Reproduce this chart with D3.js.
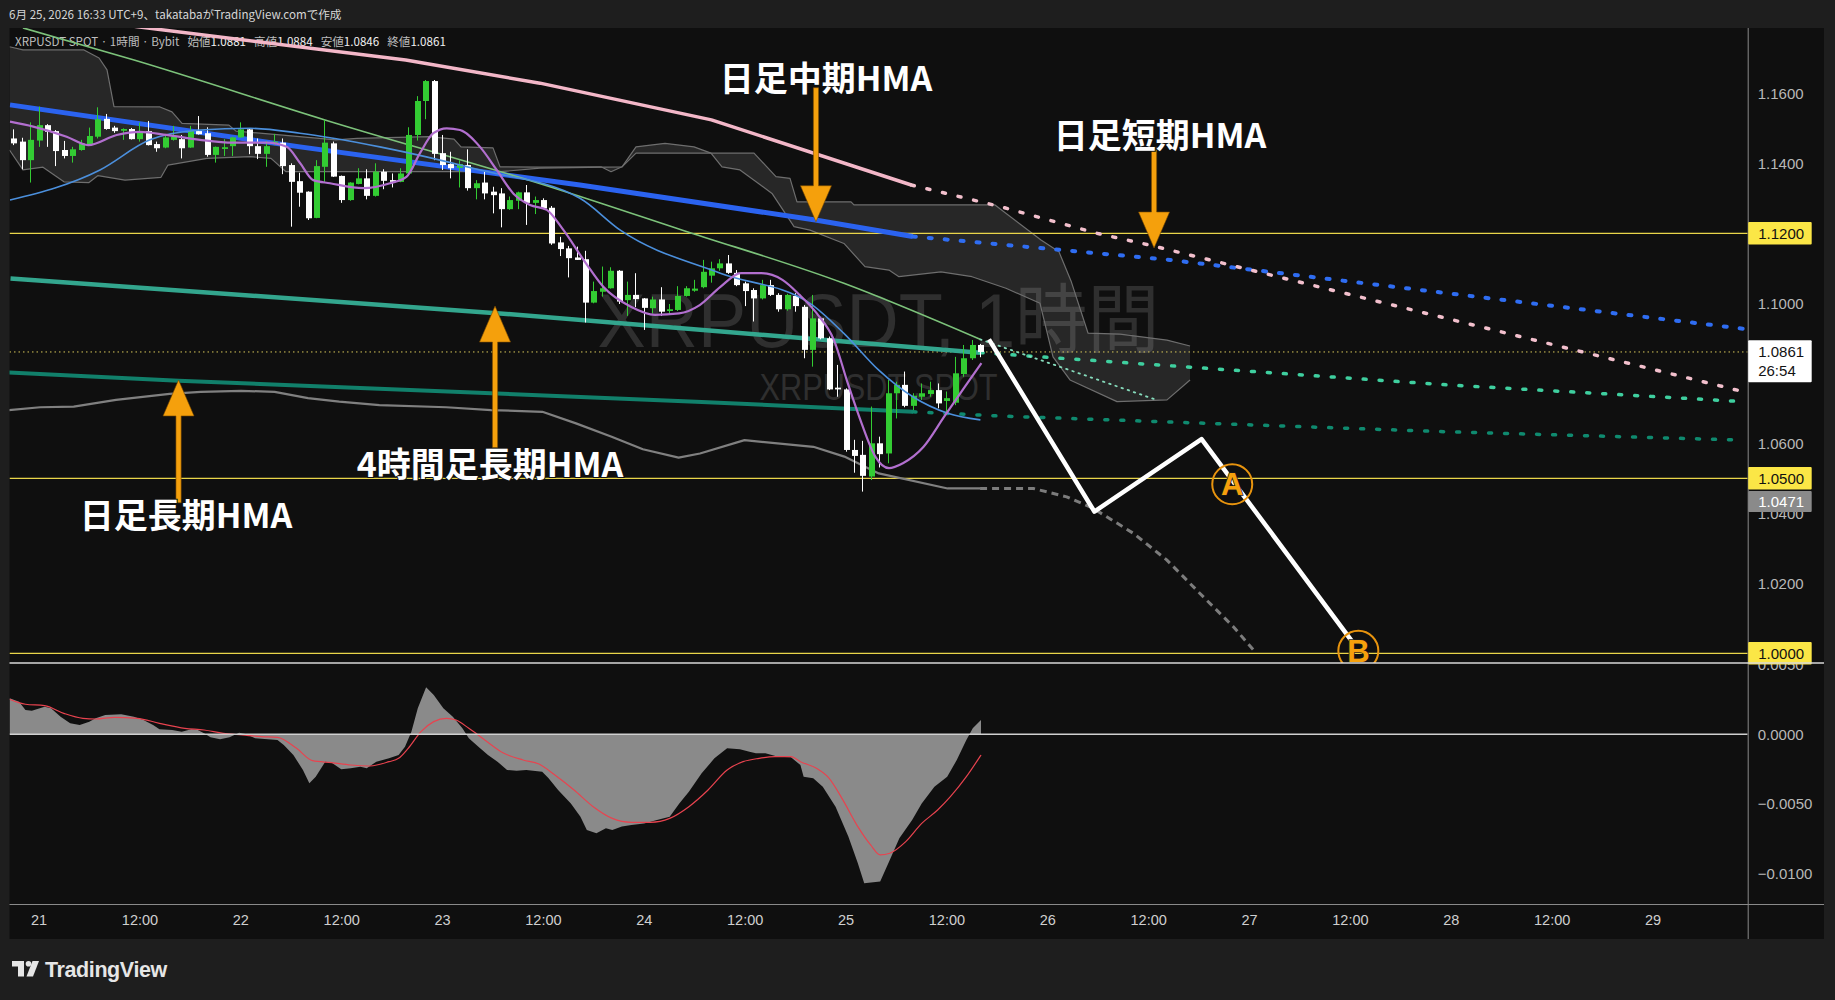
<!DOCTYPE html>
<html><head><meta charset="utf-8">
<script src="https://cdn.jsdelivr.net/npm/d3@7/dist/d3.min.js"></script>
<style>
html,body{margin:0;padding:0;background:#1e1e1e;overflow:hidden;}
svg{display:block;}
</style></head>
<body>
<svg id="chart" width="1835" height="1000"></svg>
<script>
// ================= DATA =================
const headerText = "6月 25, 2026 16:33 UTC+9、takatabaがTradingView.comで作成";
const symbolTitle = "XRPUSDT SPOT · 1時間 · Bybit";
const legendNames = ["始値", "高値", "安値", "終値"];
const watermarkMain = "XRPUSDT, 1時間";
const watermarkSub = "XRPUSDT SPOT";
const countdownText = "26:54";

// hourly candles, first one at hour -3 relative to 6/21 00:00
const firstCandleHour = -3;
const candleOpen = [1.1471,1.1462,1.1409,1.1465,1.1509,1.1492,1.1438,1.1421,1.1438,1.1455,1.1476,1.1527,1.1502,1.1493,1.1498,1.1469,1.1492,1.1455,1.1445,1.1467,1.1469,1.1445,1.1492,1.1486,1.1424,1.1441,1.1449,1.1474,1.1497,1.1449,1.1427,1.1457,1.1459,1.1395,1.1349,1.1319,1.1244,1.1390,1.1457,1.1364,1.1295,1.1341,1.1357,1.1307,1.1376,1.1352,1.1347,1.1371,1.1481,1.1578,1.1635,1.1429,1.1398,1.1387,1.1395,1.1329,1.1345,1.1319,1.1314,1.1269,1.1293,1.1317,1.1287,1.1295,1.1273,1.1174,1.1157,1.1131,1.1126,1.1002,1.1033,1.1043,1.1093,1.1009,1.1024,1.1014,1.0986,1.1011,1.0978,1.0981,1.1021,1.1036,1.1046,1.1079,1.1100,1.1114,1.1087,1.1057,1.1038,1.1014,1.1052,1.1024,1.0983,1.1021,1.0990,1.0867,1.0957,1.0900,1.0759,1.0754,1.0581,1.0567,1.0505,1.0600,1.0571,1.0743,1.0767,1.0707,1.0733,1.0741,1.0752,1.0721,1.0716,1.0798,1.0843,1.0881];
const candleHigh = [1.1497,1.1473,1.1517,1.1562,1.1512,1.1495,1.1464,1.1447,1.1467,1.1502,1.1560,1.1541,1.1507,1.1500,1.1501,1.1516,1.1521,1.1462,1.1481,1.1507,1.1481,1.1507,1.1535,1.1503,1.1448,1.1469,1.1476,1.1517,1.1499,1.1471,1.1464,1.1484,1.1471,1.1400,1.1373,1.1320,1.1409,1.1524,1.1462,1.1365,1.1346,1.1386,1.1383,1.1400,1.1383,1.1371,1.1386,1.1503,1.1592,1.1638,1.1638,1.1481,1.1433,1.1409,1.1440,1.1352,1.1376,1.1333,1.1329,1.1305,1.1319,1.1338,1.1305,1.1300,1.1278,1.1190,1.1164,1.1162,1.1150,1.1062,1.1105,1.1103,1.1095,1.1062,1.1086,1.1015,1.1019,1.1046,1.0998,1.1049,1.1049,1.1067,1.1124,1.1119,1.1126,1.1138,1.1095,1.1062,1.1043,1.1067,1.1067,1.1029,1.1027,1.1029,1.0995,1.1024,1.0960,1.0905,1.0824,1.0757,1.0610,1.0607,1.0705,1.0619,1.0781,1.0776,1.0805,1.0743,1.0771,1.0776,1.0771,1.0748,1.0847,1.0881,1.0895,1.0884];
const candleLow = [1.1452,1.1383,1.1345,1.1447,1.1447,1.1392,1.1414,1.1402,1.1436,1.1453,1.1471,1.1496,1.1487,1.1467,1.1468,1.1462,1.1451,1.1433,1.1443,1.1465,1.1414,1.1444,1.1482,1.1419,1.1402,1.1421,1.1421,1.1473,1.1426,1.1412,1.1390,1.1452,1.1369,1.1219,1.1276,1.1238,1.1243,1.1347,1.1361,1.1287,1.1293,1.1340,1.1297,1.1305,1.1326,1.1331,1.1346,1.1369,1.1465,1.1526,1.1409,1.1381,1.1357,1.1331,1.1322,1.1297,1.1297,1.1257,1.1217,1.1267,1.1269,1.1224,1.1255,1.1269,1.1167,1.1135,1.1074,1.1124,1.0945,1.1000,1.1019,1.1042,1.0998,1.0964,1.0989,1.0924,1.0971,1.0964,1.0967,1.0978,1.1019,1.1033,1.1043,1.1059,1.1093,1.1084,1.1049,1.0992,1.0948,1.1011,1.1021,1.0976,1.0979,1.0976,1.0843,1.0819,1.0897,1.0752,1.0733,1.0576,1.0516,1.0462,1.0495,1.0531,1.0543,1.0671,1.0703,1.0695,1.0724,1.0733,1.0700,1.0690,1.0709,1.0790,1.0838,1.0846];
const candleClose = [1.1457,1.1409,1.1467,1.1509,1.1490,1.1435,1.1421,1.1440,1.1457,1.1478,1.1526,1.1498,1.1492,1.1498,1.1469,1.1490,1.1452,1.1443,1.1474,1.1476,1.1443,1.1492,1.1483,1.1424,1.1447,1.1446,1.1474,1.1497,1.1449,1.1427,1.1449,1.1462,1.1392,1.1347,1.1316,1.1243,1.1392,1.1459,1.1362,1.1295,1.1345,1.1357,1.1307,1.1376,1.1350,1.1347,1.1371,1.1481,1.1578,1.1635,1.1427,1.1395,1.1386,1.1398,1.1329,1.1343,1.1314,1.1309,1.1269,1.1295,1.1317,1.1287,1.1295,1.1271,1.1171,1.1155,1.1129,1.1124,1.1002,1.1035,1.1043,1.1093,1.1005,1.1024,1.1012,1.0987,1.1011,1.0976,1.0983,1.1021,1.1043,1.1042,1.1090,1.1100,1.1114,1.1087,1.1052,1.1035,1.1014,1.1052,1.1024,1.0983,1.1024,1.0992,1.0867,1.0957,1.0900,1.0754,1.0754,1.0581,1.0564,1.0507,1.0600,1.0569,1.0743,1.0767,1.0707,1.0736,1.0743,1.0752,1.0714,1.0729,1.0800,1.0843,1.0881,1.0861];

// indicator lines: [hour, price]
const dailyShortHma = [[0,1.1835],[11.8,1.1790],[43.67,1.1695],[59.65,1.1629],[80.04,1.1524],[103.83,1.1338]];
const dailyShortHmaProj = [[103.83,1.1338],[114.45,1.1276],[125.9,1.1200],[132.57,1.1164],[202.9,1.0747]];
const dailyMidHma = [[-3.4,1.1567],[31.1,1.1447],[64.4,1.1338],[92.4,1.1238],[104.0,1.1191]];
const dailyMidHmaProj = [[104.0,1.1191],[134.6,1.1124],[202.9,1.0927]];
const h4LongHma = [[-3.34,1.1071],[54.89,1.0971],[112.0,1.0859]];
const h4LongHmaProj = [[112.0,1.0859],[167.5,1.0767],[202.9,1.0719]];
const dailyLongHma = [[-3.53,1.0802],[16.65,1.0779],[78.21,1.0719],[104.02,1.0690]];
const dailyLongHmaProj = [[104.02,1.0690],[114.37,1.0678],[167.5,1.0633],[202.9,1.0609]];
const greenMa = [[-1.86,1.1787],[11.36,1.1695],[34.07,1.1524],[62.03,1.1324],[76.6,1.1209],[95.8,1.1057],[112,1.0897]];
const greenMaProj = [[112,1.0897],[133,1.0724]];
const blueMa = [[-3.4,1.1295],[7.3,1.1381],[13.25,1.1467],[19.2,1.1495],[25.15,1.1500],[31.1,1.1486],[40.6,1.1447],[52.5,1.1381],[64.4,1.1300],[69.2,1.1209],[81.1,1.1086],[91.77,1.1000],[95.8,1.0914],[99.95,1.0809],[104.0,1.0733],[108.15,1.0686],[112.04,1.0667]];
const purpleMa = [[-3.4,1.1519],[-0.63,1.1505],[3.34,1.1476],[5.91,1.1452],[9.29,1.1481],[12.06,1.1490],[15.24,1.1481],[19.2,1.1467],[23.16,1.1459],[27.14,1.1459],[29.51,1.1447],[31.1,1.1401],[32.68,1.1352],[34.67,1.1343],[38.63,1.1329],[41.8,1.1343],[43.79,1.1362],[45.37,1.1429],[46.96,1.1486],[48.55,1.1500],[50.13,1.1495],[52.51,1.1447],[54.5,1.1381],[56.47,1.1314],[58.46,1.1281],[60.45,1.1267],[62.27,1.1215],[65.12,1.1114],[67.18,1.1047],[70.46,1.0990],[73.33,1.0967],[76.19,1.0971],[78.65,1.0995],[81.11,1.1047],[83.56,1.1086],[86.02,1.1086],[88.49,1.1067],[90.53,1.1024],[92.58,1.0971],[94.62,1.0895],[96.27,1.0771],[97.91,1.0657],[99.54,1.0562],[101.17,1.0529],[102.82,1.0543],[105.28,1.0590],[107.73,1.0676],[110.2,1.0762],[112.16,1.0829]];
const grayBand = [[-3.53,1.0695],[0.19,1.0703],[4.18,1.0705],[9.21,1.0724],[15.58,1.0741],[19.31,1.0747],[24.08,1.0750],[28.08,1.0747],[32.05,1.0729],[35.77,1.0719],[40.55,1.0709],[48.51,1.0703],[53.82,1.0695],[59.93,1.0690],[63.93,1.0657],[68.17,1.0619],[71.89,1.0583],[76.14,1.0559],[78.68,1.0571],[83.98,1.0609],[92.17,1.0590],[95.86,1.0562],[99.95,1.0514],[108.15,1.0471],[112,1.0471]];
const grayBandProj = [[112,1.0471],[118.33,1.0471],[122.3,1.0447],[125.47,1.0414],[130.23,1.0343],[134.2,1.0267],[138.16,1.0171],[142.13,1.0076],[144.51,1.0010]];
const cloudUpper = [[-3.46,1.1733],[-1.86,1.1724],[5.40,1.1724],[7.19,1.1701],[8.14,1.1667],[8.97,1.1562],[14.44,1.1561],[15.87,1.1547],[17.06,1.1514],[22.65,1.1509],[23.48,1.1492],[28.72,1.1481],[35.38,1.1467],[37.88,1.1471],[46.44,1.1476],[49.42,1.1469],[50.25,1.1447],[54.06,1.1444],[54.89,1.1390],[59.65,1.1389],[66.91,1.1390],[68.1,1.1376],[69.41,1.1390],[71.07,1.1447],[74.52,1.1457],[77.97,1.1447],[79.99,1.1429],[85.11,1.1429],[87.72,1.1362],[89.39,1.1357],[90.22,1.1290],[96.65,1.1290],[97.0,1.1281],[113.78,1.1281],[119.25,1.1181],[121.39,1.1147],[122.82,1.1064],[124.84,1.0915],[128.65,1.0912],[134.24,1.0895],[136.98,1.0878]];
const cloudLower = [[-3.46,1.1438],[-1.86,1.1381],[0.52,1.1389],[3.02,1.1347],[6.0,1.1345],[7.07,1.1365],[10.28,1.1352],[14.56,1.1360],[15.39,1.1395],[20.03,1.1414],[25.15,1.1419],[27.65,1.1414],[29.43,1.1376],[54.89,1.1376],[59.65,1.1386],[69.41,1.1390],[71.07,1.1429],[79.99,1.1429],[81.3,1.1390],[83.44,1.1381],[87.25,1.1314],[89.87,1.1219],[91.77,1.1209],[95.81,1.1171],[98.31,1.1105],[101.16,1.1095],[102.35,1.1076],[107.35,1.1090],[111.04,1.1076],[115.08,1.1043],[119.13,1.1000],[120.68,1.0847],[122.7,1.0781],[128.29,1.0719],[134.24,1.0724],[136.98,1.0781]];

// horizontal levels
const levelPrices = [1.12, 1.05, 1.00];
const lastPrice = 1.0861;
const bandLastValue = 1.0471;

// scenario path and marks
const scenarioPath = [[113.06,1.0897],[125.6,1.0405],[138.35,1.0612],[156.25,1.0034]];
const scenarioMarks = [{label:"A", h:142.0, p:1.0483},{label:"B", h:157.0, p:1.0007}];

// annotations
const annotationTexts = [
  {text:"日足中期HMA", h:93.67, p:1.1607},
  {text:"日足短期HMA", h:133.4, p:1.1443},
  {text:"4時間足長期HMA", h:53.7, p:1.0504},
  {text:"日足長期HMA", h:17.54, p:1.0358}
];
const annotationArrows = [
  {h:92.48, from:1.1616, to:1.1233},
  {h:132.7, from:1.1446, to:1.1158},
  {h:54.3, from:1.0587, to:1.0992},
  {h:16.65, from:1.0430, to:1.0781}
];

// MACD pane: [hour, value]
const macdLine = [[-3.45,0.00259],[-2.32,0.00235],[-1.56,0.00175],[-0.8,0.0017],[0.72,0.00199],[1.48,0.00187],[2.62,0.00127],[3.76,0.00079],[4.89,0.00067],[6.03,0.00091],[6.79,0.00115],[7.93,0.00139],[9.83,0.00144],[11.34,0.00127],[12.48,0.00103],[13.62,0.00067],[14.38,0.00036],[15.9,0.00031],[17.03,0.00019],[18.17,0.00036],[18.93,0.00031],[19.69,0.00007],[20.45,-0.00022],[21.59,-0.00036],[22.72,-0.00022],[23.86,0.00012],[24.62,0.00002],[25.76,-0.00029],[27.28,-0.00036],[28.42,-0.00041],[29.17,-0.00077],[30.31,-0.00149],[31.45,-0.00257],[32.21,-0.00353],[32.97,-0.00305],[34.11,-0.00197],[34.87,-0.00204],[36.0,-0.00252],[37.14,-0.00245],[38.28,-0.00233],[39.04,-0.00245],[40.18,-0.00197],[41.69,-0.00173],[42.83,-0.00149],[43.59,-0.00089],[44.35,0.00019],[45.11,0.00187],[46.1,0.00338],[47.01,0.00283],[48.15,0.00187],[49.28,0.00127],[50.42,0.00043],[51.18,-0.00029],[52.32,-0.00089],[53.46,-0.00149],[54.59,-0.00197],[55.73,-0.00257],[56.87,-0.00262],[58.01,-0.00257],[59.91,-0.00269],[60.67,-0.00317],[61.8,-0.00401],[63.32,-0.00497],[64.46,-0.00593],[65.22,-0.00688],[66.36,-0.00712],[67.49,-0.00676],[68.25,-0.00688],[69.39,-0.00664],[70.53,-0.00653],[72.04,-0.00641],[73.56,-0.00617],[75.08,-0.00593],[76.22,-0.00497],[77.36,-0.00413],[78.88,-0.00281],[80.4,-0.00173],[81.91,-0.00101],[83.43,-0.00108],[84.57,-0.00125],[85.33,-0.00137],[86.46,-0.00137],[87.98,-0.00161],[89.5,-0.00166],[90.63,-0.00221],[91.01,-0.00305],[92.15,-0.00317],[93.29,-0.00377],[94.81,-0.00521],[96.33,-0.00736],[97.46,-0.00928],[98.22,-0.01072],[100.12,-0.0106],[101.26,-0.00904],[102.4,-0.00748],[103.92,-0.00617],[105.06,-0.00497],[106.57,-0.00377],[108.09,-0.00305],[109.23,-0.00185],[110.37,-0.00041],[111.13,0.00043],[112.11,0.00103]];
const signalLine = [[-3.45,0.00252],[-1.56,0.00216],[0.72,0.00206],[3.0,0.00151],[5.27,0.00115],[6.79,0.0011],[9.07,0.00122],[11.72,0.00115],[14.38,0.00079],[17.41,0.00043],[19.69,0.00031],[21.97,0.00007],[24.24,-0.00005],[26.52,-0.00017],[28.42,-0.00022],[30.69,-0.00101],[32.59,-0.0019],[34.87,-0.00204],[37.14,-0.00221],[39.42,-0.00228],[41.69,-0.00197],[42.83,-0.00173],[43.97,-0.00101],[45.49,0.00019],[47.01,0.00091],[48.52,0.00115],[49.66,0.00103],[51.18,0.00043],[53.08,-0.00041],[55.35,-0.00137],[57.63,-0.00185],[59.53,-0.00214],[61.42,-0.00293],[63.7,-0.00401],[65.98,-0.00521],[68.25,-0.00605],[70.53,-0.00633],[72.8,-0.00633],[75.08,-0.00605],[77.36,-0.00521],[79.64,-0.00401],[81.91,-0.00257],[83.81,-0.00197],[85.71,-0.00173],[87.6,-0.00161],[89.5,-0.00161],[90.63,-0.00197],[92.53,-0.00245],[94.05,-0.00317],[95.57,-0.00461],[97.46,-0.00664],[98.98,-0.00796],[100.12,-0.00868],[101.26,-0.00856],[103.16,-0.00772],[105.06,-0.00641],[106.95,-0.00545],[108.47,-0.00449],[110.37,-0.00305],[112.11,-0.00149]];

// axis ticks (1.1200 / 1.0800 / 1.0000 are covered by level and price labels)
const priceTickValues = [1.16,1.14,1.10,1.06,1.04,1.02];
const macdTickValues = [0.005,0,-0.005,-0.01];
const timeTickHours = [0,12,24,36,48,60,72,84,96,108,120,132,144,156,168,180,192];
const timeTickLabels = ["21","12:00","22","12:00","23","12:00","24","12:00","25","12:00","26","12:00","27","12:00","28","12:00","29"];

// ================= LAYOUT =================
const W = 1835, HT = 1000;
const paneL = 9.5, paneR = 1747.7, mainTop = 28, mainBot = 663, macdBot = 904, axisBot = 939, frameR = 1824;
const LAT = "'Liberation Sans', Arial, sans-serif";
const JP = "'Noto Sans CJK JP', 'Noto Sans', sans-serif";
const WM = "'Liberation Sans', 'Noto Sans CJK JP', sans-serif";
const BASE = Date.UTC(2026, 5, 21, 0, 0);
const HOUR = 3600e3;
const toDate = h => new Date(BASE + h * HOUR);

const x = d3.scaleUtc().domain([toDate(-3.46), toDate(203.32)]).range([paneL, paneR]);
const xh = h => x(toDate(h));
const y = d3.scaleLinear().domain([0.99723, 1.17866]).range([mainBot, mainTop]);
const ym = d3.scaleLinear().domain([-0.01221, 0.00513]).range([macdBot, mainBot]);
const fmt4 = d3.format(".4f");

const svg = d3.select("#chart");
const defs = svg.append("defs");
defs.append("clipPath").attr("id","clipMain").append("rect").attr("x",paneL).attr("y",mainTop).attr("width",paneR-paneL).attr("height",mainBot-mainTop);
defs.append("clipPath").attr("id","clipMacd").append("rect").attr("x",paneL).attr("y",mainBot).attr("width",paneR-paneL).attr("height",macdBot-mainBot);
defs.append("clipPath").attr("id","clipMacdAxis").append("rect").attr("x",paneR).attr("y",mainBot).attr("width",frameR-paneR).attr("height",macdBot-mainBot);

// backgrounds
svg.append("rect").attr("width",W).attr("height",HT).attr("fill","#1e1e1e");
svg.append("rect").attr("x",paneL).attr("y",mainTop).attr("width",frameR-paneL).attr("height",axisBot-mainTop).attr("fill","#0f0f0f");

// header
svg.append("text").attr("x",9).attr("y",19).attr("fill","#d6d6d6").style("font",`11.6px ${JP}`).text(headerText);

// watermark
svg.append("text").attr("x",(paneL+paneR)/2).attr("y",347).attr("text-anchor","middle")
  .attr("textLength",562).attr("lengthAdjust","spacingAndGlyphs")
  .attr("fill","#2f2f2f").style("font",`76px ${WM}`).text(watermarkMain);
svg.append("text").attr("x",(paneL+paneR)/2).attr("y",400).attr("text-anchor","middle")
  .attr("textLength",238).attr("lengthAdjust","spacingAndGlyphs")
  .attr("fill","#2f2f2f").style("font",`36px ${WM}`).text(watermarkSub);

// legend
const lastI = candleClose.length - 1;
const leg = svg.append("text").attr("x",15).attr("y",46).style("font",`11.6px ${JP}`);
leg.append("tspan").attr("fill","#bdbdbd").text(symbolTitle);
[candleOpen[lastI], candleHigh[lastI], candleLow[lastI], candleClose[lastI]].forEach((v,i)=>{
  leg.append("tspan").attr("dx", 8).attr("fill","#bdbdbd").text(legendNames[i]);
  leg.append("tspan").attr("fill","#f0f0f0").text(fmt4(v));
});

// ---------- main pane ----------
const main = svg.append("g").attr("clip-path","url(#clipMain)");
const lineGen = (ys, curve) => d3.line().x(d=>xh(d[0])).y(d=>ys(d[1])).curve(curve || d3.curveLinear);
function drawLine(g, pts, o){
  return g.append("path").datum(pts).attr("d", lineGen(o.ys || y, o.curve)(pts))
    .attr("fill","none").attr("stroke",o.color).attr("stroke-width",o.w)
    .attr("stroke-dasharray",o.dash || null).attr("stroke-linecap",o.cap || "butt")
    .attr("stroke-linejoin","round").attr("opacity", o.op == null ? 1 : o.op);
}

// cloud
const cloudPoly = cloudUpper.concat(cloudLower.slice().reverse());
main.append("path").datum(cloudPoly).attr("d", lineGen(y)(cloudPoly) + "Z").attr("fill","rgba(255,255,255,0.1)").attr("stroke","none");
drawLine(main, cloudUpper, {color:"#6e6e6e", w:1.2});
drawLine(main, cloudLower, {color:"#6e6e6e", w:1.2});

// horizontal levels
levelPrices.forEach(p=>{
  main.append("line").attr("x1",paneL).attr("x2",paneR).attr("y1",y(p)).attr("y2",y(p)).attr("stroke","#e9d54a").attr("stroke-width",1.2);
});
main.append("line").attr("x1",paneL).attr("x2",paneR).attr("y1",y(lastPrice)).attr("y2",y(lastPrice))
  .attr("stroke","#d8c85a").attr("stroke-width",1).attr("stroke-dasharray","1.5 3");

// higher-timeframe lines
drawLine(main, grayBand, {color:"#808080", w:2.2});
drawLine(main, grayBandProj, {color:"#7c7c7c", w:3, dash:"7 5"});
drawLine(main, dailyLongHma, {color:"#11806b", w:4});
drawLine(main, dailyLongHmaProj, {color:"#0f8a6f", w:3.5, dash:"3 13", cap:"round"});
drawLine(main, h4LongHma, {color:"#33a68e", w:4.5});
drawLine(main, h4LongHmaProj, {color:"#3fcf9f", w:3.5, dash:"3 13", cap:"round"});
drawLine(main, greenMaProj, {color:"#86dcbc", w:1.8, dash:"1.5 5", cap:"round"});
drawLine(main, dailyMidHma, {color:"#2b63f0", w:5});
drawLine(main, dailyMidHmaProj, {color:"#2f6df2", w:4, dash:"3 13", cap:"round"});
drawLine(main, dailyShortHma, {color:"#f3b7c8", w:3.5});
drawLine(main, dailyShortHmaProj, {color:"#f3c0cd", w:3.5, dash:"3 13", cap:"round"});
drawLine(main, greenMa, {color:"#7cc27a", w:1.6, curve:d3.curveMonotoneX});

// candles
const candles = candleOpen.map((o,i)=>({h:firstCandleHour+i, o, hi:candleHigh[i], lo:candleLow[i], c:candleClose[i]}));
const colorOf = d => d.c >= d.o ? "#33cc33" : "#ffffff";
const cg = main.append("g");
cg.selectAll("line").data(candles).join("line")
  .attr("x1",d=>Math.round(xh(d.h))+0.5).attr("x2",d=>Math.round(xh(d.h))+0.5)
  .attr("y1",d=>y(d.hi)).attr("y2",d=>y(d.lo)).attr("stroke",colorOf).attr("stroke-width",1);
cg.selectAll("rect").data(candles).join("rect")
  .attr("x",d=>Math.round(xh(d.h))-2).attr("width",6)
  .attr("y",d=>y(Math.max(d.o,d.c))).attr("height",d=>Math.max(1.5, Math.abs(y(d.o)-y(d.c))))
  .attr("fill",colorOf);

drawLine(main, blueMa, {color:"#4b8fdc", w:1.6, curve:d3.curveMonotoneX});
drawLine(main, purpleMa, {color:"#b26fcf", w:2.2, curve:d3.curveMonotoneX});

// scenario path
drawLine(main, scenarioPath, {color:"#ffffff", w:4.5});
const orange = "#f5a00c";
scenarioMarks.forEach(m=>{
  main.append("circle").attr("cx",xh(m.h)).attr("cy",y(m.p)).attr("r",20)
    .attr("fill","none").attr("stroke","#e8940e").attr("stroke-width",2);
  main.append("text").attr("x",xh(m.h)).attr("y",y(m.p)+11).attr("text-anchor","middle")
    .attr("fill",orange).attr("stroke","#1a1a1a").attr("stroke-width",1.5).attr("paint-order","stroke")
    .style("font",`bold 31px ${LAT}`).text(m.label);
});

// arrows
annotationArrows.forEach(a=>{
  const xa = xh(a.h), y0 = y(a.from), y1 = y(a.to);
  const dir = Math.sign(y1 - y0), headL = 36, headW = 15.5, shaftW = 2.6;
  const yb = y1 - dir*headL;
  const pts = [[xa-shaftW,y0],[xa+shaftW,y0],[xa+shaftW,yb],[xa+headW,yb],[xa,y1],[xa-headW,yb],[xa-shaftW,yb]];
  main.append("path").attr("d","M"+pts.map(p=>p.join(",")).join("L")+"Z")
    .attr("fill",orange).attr("stroke","#7a4a00").attr("stroke-width",0.6);
});
annotationTexts.forEach(t=>{
  main.append("text").attr("x",xh(t.h)).attr("y",y(t.p)).attr("text-anchor","middle")
    .attr("fill","#ffffff").attr("stroke","#111").attr("stroke-width",2).attr("paint-order","stroke")
    .style("font",`bold 34px ${JP}`).text(t.text);
});

// ---------- MACD pane ----------
const mg = svg.append("g").attr("clip-path","url(#clipMacd)");
mg.append("path").datum(macdLine).attr("d", d3.area().x(d=>xh(d[0])).y0(ym(0)).y1(d=>ym(d[1]))(macdLine)).attr("fill","#8a8a8a");
drawLine(mg, signalLine, {ys:ym, color:"#e8434f", w:1.2, curve:d3.curveMonotoneX});
mg.append("line").attr("x1",paneL).attr("x2",paneR).attr("y1",ym(0)).attr("y2",ym(0)).attr("stroke","#d0d0d0").attr("stroke-width",1.5);

// ---------- separators & axes ----------
svg.append("line").attr("x1",paneR+0.5).attr("x2",paneR+0.5).attr("y1",mainTop).attr("y2",axisBot).attr("stroke","#8a8a8a").attr("stroke-width",1);
svg.append("line").attr("x1",paneL).attr("x2",frameR).attr("y1",macdBot+0.5).attr("y2",macdBot+0.5).attr("stroke","#8a8a8a").attr("stroke-width",1);

// price axis
const pax = svg.append("g").attr("transform",`translate(${paneR},0)`)
  .call(d3.axisRight(y).tickValues(priceTickValues).tickFormat(fmt4).tickSize(0).tickPadding(10));
pax.select(".domain").remove();
pax.selectAll("text").attr("fill","#b8b8b8").style("font",`15px ${LAT}`);

// macd axis
const max = svg.append("g").attr("clip-path","url(#clipMacdAxis)").append("g").attr("transform",`translate(${paneR},0)`)
  .call(d3.axisRight(ym).tickValues(macdTickValues).tickFormat(fmt4).tickSize(0).tickPadding(10));
max.select(".domain").remove();
max.selectAll("text").attr("fill","#b8b8b8").style("font",`15px ${LAT}`);

// time axis
const tax = svg.append("g").attr("transform",`translate(0,${macdBot})`)
  .call(d3.axisBottom(x).tickValues(timeTickHours.map(toDate)).tickFormat((d,i)=>timeTickLabels[i]).tickSize(0).tickPadding(11));
tax.select(".domain").remove();
tax.selectAll("text").attr("fill","#cfcfcf").style("font",`14.5px ${LAT}`);

// price labels
function priceLabel(cy, txt, bg, fg, h){
  h = h || 22.6;
  svg.append("rect").attr("x",paneR+0.5).attr("y",cy-h/2).attr("width",63.5).attr("height",h).attr("fill",bg).attr("rx",1);
  svg.append("text").attr("x",paneR+10.5).attr("y",cy+5.3).attr("fill",fg).style("font",`15px ${LAT}`).text(txt);
}
levelPrices.forEach(p=> priceLabel(y(p), fmt4(p), "#fbe646", "#111"));
const yellowBottom = y(1.05) + 11.3;
priceLabel(Math.max(y(bandLastValue), yellowBottom + 12), fmt4(bandLastValue), "#8a8a8a", "#ffffff", 21);
// current price + countdown
svg.append("rect").attr("x",paneR+0.5).attr("y",y(lastPrice)-11.7).attr("width",63.5).attr("height",42).attr("fill","#ffffff").attr("rx",1);
svg.append("text").attr("x",paneR+10.5).attr("y",y(lastPrice)+5.3).attr("fill","#131313").style("font",`15px ${LAT}`).text(fmt4(lastPrice));
svg.append("text").attr("x",paneR+10.5).attr("y",y(lastPrice)+24.5).attr("fill","#131313").style("font",`15px ${LAT}`).text(countdownText);

// pane separator (drawn over labels)
svg.append("line").attr("x1",paneL).attr("x2",frameR).attr("y1",mainBot).attr("y2",mainBot).attr("stroke","#d8d8d8").attr("stroke-width",1.5);

// TradingView logo
const logo = svg.append("g").attr("fill","#e6e6e6");
logo.append("rect").attr("x",12).attr("y",961).attr("width",12).attr("height",5.5);
logo.append("rect").attr("x",18).attr("y",961).attr("width",6).attr("height",15.5);
logo.append("circle").attr("cx",28.5).attr("cy",963.8).attr("r",2.8);
logo.append("path").attr("d","M32.5,961 L39,961 L33,976.5 L26.5,976.5 Z");
svg.append("text").attr("x",45).attr("y",976.5).attr("fill","#e6e6e6").style("font",`bold 21.5px ${LAT}`).attr("letter-spacing","-0.4").text("TradingView");
</script>
</body></html>
